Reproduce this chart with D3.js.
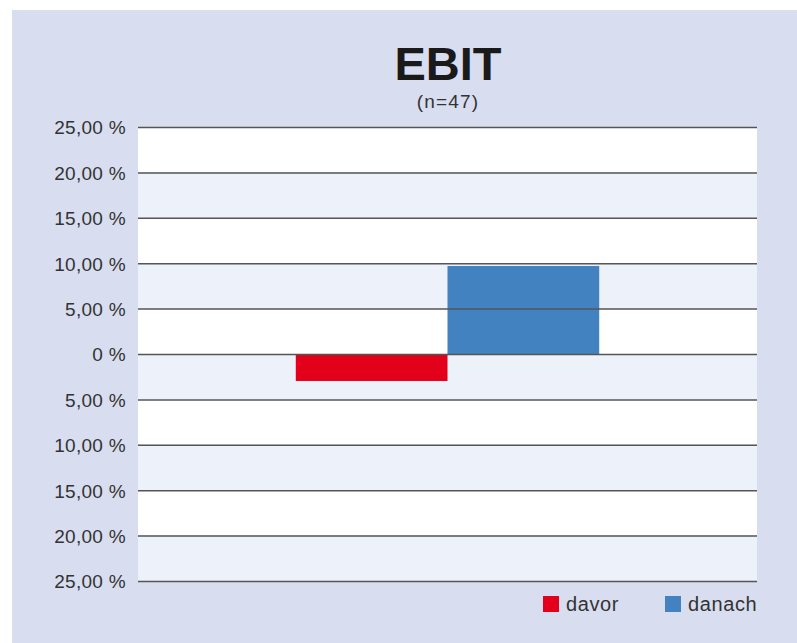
<!DOCTYPE html>
<html><head><meta charset="utf-8">
<script src="https://cdn.jsdelivr.net/npm/d3@7"></script>
<style>html,body{margin:0;padding:0;background:#fff;}svg{display:block;}</style>
</head><body>
<svg id="chart" width="797" height="643"></svg>
<script>
const categories = ["EBIT"];
const seriesNames = ["davor", "danach"];
const seriesValues = [-2.97, 9.69];
const seriesColors = ["#e2001a", "#4382c0"];
const tickValues = [25, 20, 15, 10, 5, 0, -5, -10, -15, -20, -25];
const tickLabels = ["25,00 %", "20,00 %", "15,00 %", "10,00 %", "5,00 %", "0 %", "5,00 %", "10,00 %", "15,00 %", "20,00 %", "25,00 %"];
const title = "EBIT";
const subtitle = "(n=47)";

const svg = d3.select("#chart");
const font = "'Liberation Sans', Arial, Helvetica, sans-serif";
svg.append("rect").attr("x", 12).attr("y", 10).attr("width", 785).attr("height", 633).attr("fill", "#d8deef");

const pLeft = 138, pRight = 757, pTop = 127, pBottom = 581;
const y = d3.scaleLinear().domain([-25, 25]).range([pBottom, pTop]);
const x0 = d3.scaleBand().domain(categories).range([pLeft, pRight]).paddingInner(0).paddingOuter(0.52);
const x1 = d3.scaleBand().domain(seriesNames).range([0, x0.bandwidth()]).padding(0);

// bands
const bandEdges = tickValues.slice(0, -1).map((v, i) => [v, tickValues[i + 1]]);
svg.append("g").selectAll("rect").data(bandEdges).join("rect")
  .attr("x", pLeft).attr("width", pRight - pLeft)
  .attr("y", d => y(d[0])).attr("height", d => y(d[1]) - y(d[0]))
  .attr("fill", (d, i) => i % 2 === 0 ? "#ffffff" : "#edf1f9");

// bars
const g = svg.append("g").attr("transform", `translate(${x0(categories[0])},0)`);
g.selectAll("rect").data(seriesNames.map((s, i) => ({s, v: seriesValues[i], c: seriesColors[i]}))).join("rect")
  .attr("x", d => x1(d.s)).attr("width", x1.bandwidth())
  .attr("y", d => y(Math.max(0, d.v))).attr("height", d => Math.abs(y(d.v) - y(0)))
  .attr("fill", d => d.c);

// axis / gridlines
const axis = d3.axisLeft(y).tickValues(tickValues).tickSize(-(pRight - pLeft)).tickPadding(12)
  .tickFormat((d, i) => tickLabels[i]);
const ax = svg.append("g").attr("transform", `translate(${pLeft},0)`).call(axis);
ax.select(".domain").remove();
ax.selectAll(".tick line").attr("stroke", "#555").attr("stroke-width", 1.5);
ax.selectAll(".tick text").attr("font-family", font).attr("font-size", 19).attr("letter-spacing", 0.3)
  .attr("fill", "#333").attr("dy", "0.36em").attr("x", -12);

// title
svg.append("text").attr("x", 448).attr("y", 80).attr("text-anchor", "middle")
  .attr("font-family", font).attr("font-weight", "bold").attr("font-size", 47).attr("fill", "#1a1a1a").text(title);
svg.append("text").attr("x", 448).attr("y", 108).attr("text-anchor", "middle")
  .attr("font-family", font).attr("font-size", 19).attr("letter-spacing", 1.2).attr("fill", "#333").text(subtitle);

// legend
const legX = [543, 665];
const leg = svg.append("g").selectAll("g").data(seriesNames).join("g")
  .attr("transform", (d, i) => `translate(${legX[i]},596)`);
leg.append("rect").attr("width", 16).attr("height", 16).attr("fill", (d, i) => seriesColors[i]);
leg.append("text").attr("x", 23).attr("y", 15).attr("font-family", font).attr("font-size", 20).attr("letter-spacing", 0.6)
  .attr("fill", "#333").text(d => d);
</script>
</body></html>
